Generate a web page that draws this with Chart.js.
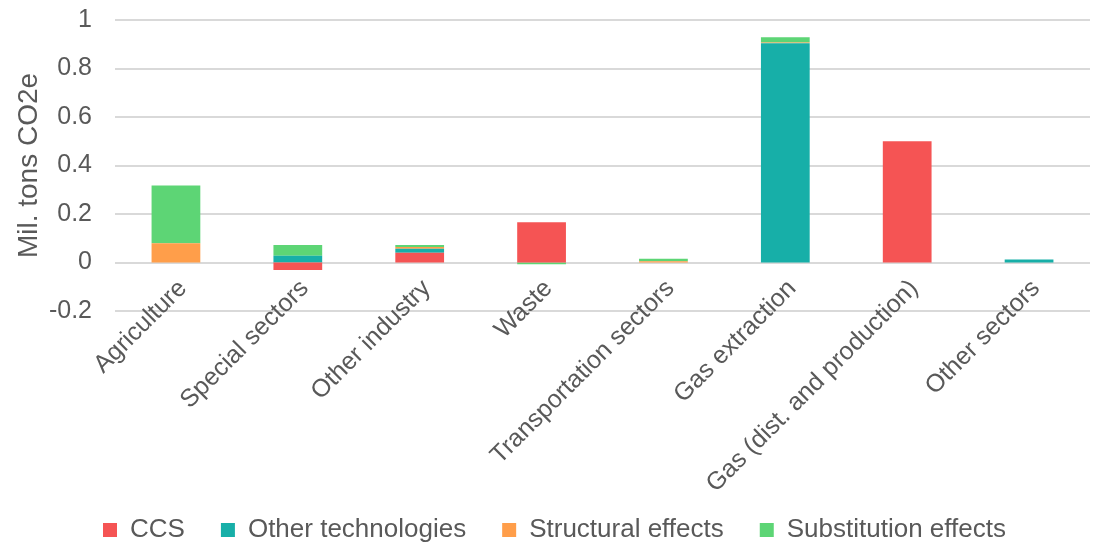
<!DOCTYPE html>
<html>
<head>
<meta charset="utf-8">
<script src="https://cdn.jsdelivr.net/npm/chart.js@4"></script>
<style>
html,body{margin:0;padding:0;background:#fff;}
#wrap{width:1094px;height:548px;}
</style>
</head>
<body>
<div id="wrap"><canvas id="c" width="1094" height="548"></canvas></div>
<script>
const categories = ["Agriculture", "Special sectors", "Other industry", "Waste", "Transportation sectors", "Gas extraction", "Gas (dist. and production)", "Other sectors"];
const ccs = [0, -0.031, 0.040, 0.166, 0, 0, 0.50, 0];
const otherTechnologies = [0, 0.028, 0.017, 0, 0, 0.904, 0, 0.012];
const structuralEffects = [0.079, 0, 0.007, 0, 0.005, 0.003, 0, 0];
const substitutionEffects = [0.239, 0.044, 0.008, -0.007, 0.010, 0.022, 0, 0];
const seriesNames = ["CCS", "Other technologies", "Structural effects", "Substitution effects"];
const seriesColors = ["#F55454", "#17AFA8", "#FF9E4A", "#5DD575"];
const yTitle = "Mil. tons CO2e";

const FONT = "'Liberation Sans', Arial, sans-serif";
const TXT = "#595959";
const CHART_BOTTOM = 311;
const LEGEND_PAD = 36;
const PAD_BOTTOM = -5;
const PAD_LEFT = 19;

const data = {
  labels: categories,
  datasets: [ccs, otherTechnologies, structuralEffects, substitutionEffects].map((d, i) => ({
    label: seriesNames[i],
    data: d,
    backgroundColor: seriesColors[i],
    borderWidth: 0,
    categoryPercentage: 1,
    barPercentage: 0.4
  }))
};

const noLabelClip = {
  id: 'noLabelClip',
  afterLayout(chart) {
    chart.scales.x._computeLabelArea = () => undefined;
  }
};

new Chart(document.getElementById('c'), {
  type: 'bar',
  data,
  plugins: [noLabelClip],
  options: {
    responsive: false,
    animation: false,
    devicePixelRatio: 1,
    layout: { padding: { top: 20, right: 4, left: PAD_LEFT, bottom: PAD_BOTTOM } },
    plugins: {
      legend: {
        position: 'bottom',
        labels: {
          boxWidth: 14, boxHeight: 14, padding: LEGEND_PAD,
          color: TXT, font: { family: FONT, size: 26 }
        }
      },
      tooltip: { enabled: false }
    },
    scales: {
      x: {
        stacked: true,
        grid: { display: false, drawTicks: false },
        border: { display: false },
        ticks: {
          color: TXT, font: { family: FONT, size: 25 },
          minRotation: 45, maxRotation: 45, autoSkip: false,
          padding: -37, labelOffset: 7
        },
        afterFit(scale) {
          const legendH = 26 + LEGEND_PAD + 10;
          scale.height = 548 - PAD_BOTTOM - legendH - CHART_BOTTOM;
        }
      },
      y: {
        stacked: true,
        min: -0.2, max: 1,
        ticks: {
          stepSize: 0.2, color: TXT, font: { family: FONT, size: 25 }, padding: 0,
          callback: v => { const r = Math.round(v * 10) / 10; return r === 0 ? '0' : String(r); }
        },
        grid: { color: "#d9d9d9", lineWidth: 2, drawTicks: true, tickLength: 23, tickColor: 'rgba(0,0,0,0)' },
        border: { display: false },
        title: { display: true, text: yTitle, color: TXT, font: { family: FONT, size: 28 }, padding: { top: 12 - PAD_LEFT, bottom: 0 } },
        afterFit(scale) { scale.width = 115 - PAD_LEFT; }
      }
    }
  }
});
</script>
</body>
</html>
